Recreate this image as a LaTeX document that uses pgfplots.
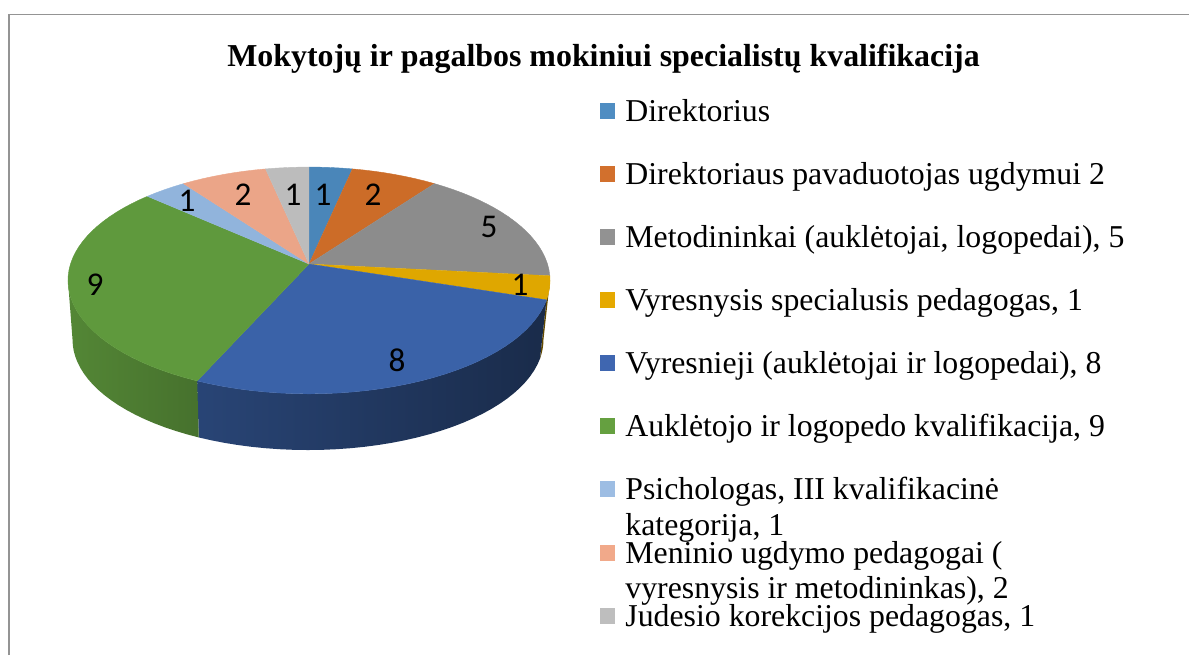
\documentclass[border=0pt]{standalone}
\usepackage{fontspec}
\setmainfont{Liberation Serif}
\newfontfamily\calibri{Carlito}
\usepackage{pgfplots}
\pgfplotsset{compat=1.18}
\definecolor{cA}{HTML}{4A86B9}
\definecolor{cB}{HTML}{CC6C28}
\definecolor{cC}{HTML}{8C8C8C}
\definecolor{cD}{HTML}{DFA700}
\definecolor{cE}{HTML}{3A62A8}
\definecolor{cF}{HTML}{5F993D}
\definecolor{cG}{HTML}{91B4DC}
\definecolor{cH}{HTML}{EBA588}
\definecolor{cI}{HTML}{BCBCBC}
\definecolor{lA}{HTML}{4F8DC2}
\definecolor{lB}{HTML}{D2702D}
\definecolor{lC}{HTML}{929292}
\definecolor{lD}{HTML}{E5A900}
\definecolor{lE}{HTML}{3F66B0}
\definecolor{lF}{HTML}{65A040}
\definecolor{lG}{HTML}{9DBDE3}
\definecolor{lH}{HTML}{F1A98A}
\definecolor{lI}{HTML}{BEBEBE}
% rim of the pie in perspective: angle, cx, cy, R, H
\newcommand{\rimpoint}[5]{%
  \pgfmathsetmacro\dd{1+0.145*cos(#1)}%
  \pgfmathsetmacro\px{#2+#4*sin(#1)/\dd}%
  \pgfmathsetmacro\py{#3-#5*cos(#1)/\dd}%
}
\newcommand{\arcpts}[6]{%
  \pgfmathsetmacro\nn{int(ceil(abs(#2-#1)/3))}%
  \foreach \i in {0,...,\nn}{%
    \pgfmathsetmacro\ang{#1+(#2-#1)*\i/\nn}%
    \rimpoint{\ang}{#3}{#4}{#5}{#6}%
    \xdef\ptlist{\ptlist (\px,\py)}%
  }%
}
\xdef\cum{0}
\newcommand{\topslice}[2]{%
  \pgfmathsetmacro\aa{\cum*12}%
  \pgfmathsetmacro\bb{(\cum+#1)*12}%
  \pgfmathsetmacro\nc{\cum+#1}\xdef\cum{\nc}%
  \xdef\ptlist{(309,264)}%
  \arcpts{\aa}{\bb}{309}{264}{238.5}{111}%
  \edef\tmp{\noexpand\addplot[fill=#2,draw=#2,line width=0.2pt,forget plot] coordinates {\ptlist};}\tmp
}
\newcommand{\wall}[3]{%
  \xdef\ptlist{}%
  \arcpts{#1}{#2}{309}{264}{238.5}{111}%
  \arcpts{#2}{#1}{308}{323.7}{233}{108}%
  \edef\tmp{\noexpand\addplot[draw=none,forget plot,#3] coordinates {\ptlist};}\tmp
}
\newcommand{\legrow}[2]{%
  \addplot[only marks,mark=square*,mark size=3.7pt,mark options={draw=#1,fill=#1,line width=0pt},forget plot] coordinates {(607.5,#2)};
}
\newcommand{\legtext}[2]{\node[anchor=base west,inner sep=0pt,font=\fontsize{15.9}{18}\selectfont] at (axis cs:625,#1) {#2};}
\begin{document}
\begin{tikzpicture}
\begin{axis}[
  scale only axis,width=594.5pt,height=327.5pt,
  xmin=0,xmax=1189,ymin=0,ymax=655,y dir=reverse,
  hide axis,clip=false]
\path[use as bounding box] (axis cs:0,0) rectangle (axis cs:1189,655);
% frame
\addplot[draw=black!42,line width=0.6pt,forget plot] coordinates {(9,655) (9,14.5) (1189,14.5)};
% side walls
\wall{98.3}{108}{fill=black!55!cD}
\wall{108}{204}{left color=cE!70!black,middle color=cE!46!black,right color=cE!44!black}
\wall{204}{261.7}{left color=cF!88!black,right color=cF!74!black}
% top
\topslice{1}{cA}
\topslice{2}{cB}
\topslice{5}{cC}
\topslice{1}{cD}
\topslice{8}{cE}
\topslice{9}{cF}
\topslice{1}{cG}
\topslice{2}{cH}
\topslice{1}{cI}
% data labels
\addplot[only marks,mark=none,point meta=explicit,forget plot,
  nodes near coords,nodes near coords style={anchor=center,inner sep=0pt,font=\calibri\fontsize{16.6}{18}\selectfont,/pgf/number format/assume math mode=true,/pgf/number format/fixed}]
  table[x=x,y=y,meta=v] {
x y v
323 195 1
373 195 2
489 227 5
520 285 1
397 360 8
95 285 9
187 201 1
243 195 2
293 195 1
};
% title
\node[anchor=base,inner sep=0pt,font=\bfseries\fontsize{15.95}{18}\selectfont] at (axis cs:603.5,66) {Mokytojų ir pagalbos mokiniui specialistų kvalifikacija};
% legend
\legrow{lA}{111}\legrow{lB}{174}\legrow{lC}{237}\legrow{lD}{300}\legrow{lE}{363}\legrow{lF}{426}\legrow{lG}{489}\legrow{lH}{553}\legrow{lI}{616}
\legtext{121}{Direktorius}
\legtext{184}{Direktoriaus pavaduotojas ugdymui 2}
\legtext{247}{Metodininkai (auklėtojai, logopedai), 5}
\legtext{310}{Vyresnysis specialusis pedagogas, 1}
\legtext{373}{Vyresnieji (auklėtojai ir logopedai), 8}
\legtext{436}{Auklėtojo ir logopedo kvalifikacija, 9}
\legtext{499}{Psichologas, III kvalifikacinė}
\legtext{535}{kategorija, 1}
\legtext{563}{Meninio ugdymo pedagogai (}
\legtext{598}{vyresnysis ir metodininkas), 2}
\legtext{626}{Judesio korekcijos pedagogas, 1}
\end{axis}
\end{tikzpicture}
\end{document}
